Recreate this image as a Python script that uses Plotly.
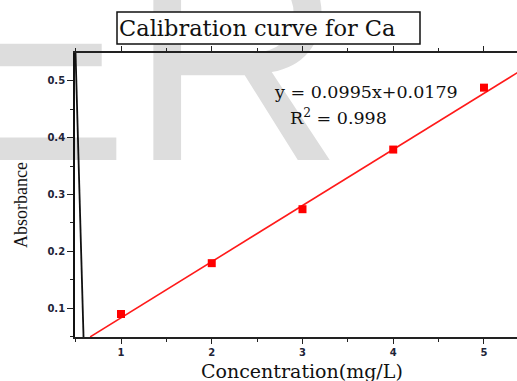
import numpy as np
import plotly.graph_objects as go

# ---- data ----
concentration = [1, 2, 3, 4, 5]
absorbance = [0.0895, 0.179, 0.274, 0.379, 0.488]
fit_slope = 0.0988
fit_intercept = -0.016
fit_x = [0.66, 5.4]
artifact_x = [0.499, 0.587]
artifact_y = [0.549, 0.049]
x_ticks = [1, 2, 3, 4, 5]
y_ticks = [0.1, 0.2, 0.3, 0.4, 0.5]
title_text = "Calibration curve for Ca"
equation_text = "y = 0.0995x+0.0179"
r2_text = "R<sup>2</sup> = 0.998"
x_title = "Concentration(mg/L)"
y_title = "Absorbance"
watermark_letters = ["E", "R"]

W, H = 517, 381
L, R, T, B = 75, 0, 53, 44
PW, PH = W - L - R, H - T - B


def px(xp):
    return (xp - L) / PW


def py(yp):
    return (H - B - yp) / PH


fit_y = [fit_slope * v + fit_intercept for v in fit_x]

fig = go.Figure()
fig.add_trace(go.Scatter(x=artifact_x, y=artifact_y, mode="lines",
                         line=dict(color="#111111", width=1.8), hoverinfo="skip"))
fig.add_trace(go.Scatter(x=fit_x, y=fit_y, mode="lines",
                         line=dict(color="#ff1a1a", width=1.6), hoverinfo="skip"))
fig.add_trace(go.Scatter(x=concentration, y=absorbance, mode="markers",
                         marker=dict(symbol="square", size=8, color="#ff0000"),
                         hoverinfo="skip"))

tickfont = dict(family="DejaVu Sans", size=10, color="#1e2438", weight="bold")

fig.update_xaxes(range=[0.493, 5.364], tickvals=x_ticks, ticks="outside", ticklen=5,
                 tickwidth=1.2, tickcolor="#222", showline=True, linecolor="#222",
                 linewidth=1.5, mirror="ticks", showgrid=False, zeroline=False,
                 automargin=False, tickfont=tickfont,
                 minor=dict(dtick=0.5, tick0=0.5, ticks="outside", ticklen=3,
                            tickcolor="#222", tickwidth=1.2))
fig.update_yaxes(range=[0.049, 0.549], tickvals=y_ticks, ticks="outside", ticklen=6,
                 tickwidth=1.2, tickcolor="#222", showline=True, linecolor="#111",
                 linewidth=1.8, mirror="ticks", showgrid=False, zeroline=False,
                 automargin=False, tickfont=tickfont, tickformat=".1f",
                 minor=dict(dtick=0.05, tick0=0.05, ticks="outside", ticklen=3,
                            tickcolor="#222", tickwidth=1.2))

wm_font = dict(family="Liberation Sans", size=297, color="#dddddd")
shapes = [
    dict(type="rect", xref="paper", yref="paper", layer="below",
         x0=px(-72), x1=px(110), y0=py(195), y1=py(-60),
         line=dict(width=0), fillcolor="rgba(0,0,0,0)",
         label=dict(text=watermark_letters[0], textposition="bottom left", padding=0,
                    font=wm_font)),
    dict(type="rect", xref="paper", yref="paper", layer="below",
         x0=px(126), x1=px(400), y0=py(195), y1=py(-60),
         line=dict(width=0), fillcolor="rgba(0,0,0,0)",
         label=dict(text=watermark_letters[1], textposition="bottom left", padding=0,
                    font=wm_font)),
    dict(type="rect", xref="paper", yref="paper", layer="below",
         x0=px(117), x1=px(420), y0=py(44), y1=py(12),
         line=dict(color="#111", width=1.5), fillcolor="white"),
]

annotations = [
    dict(text=title_text, xref="paper", yref="paper", x=px(257), y=py(28),
         xanchor="center", yanchor="middle", showarrow=False,
         font=dict(family="DejaVu Serif", size=22.5, color="#111")),
    dict(text=equation_text, x=3.70, y=0.4806, xanchor="center", yanchor="middle",
         showarrow=False, font=dict(family="DejaVu Serif", size=17.5, color="#111")),
    dict(text=r2_text, x=3.40, y=0.4366, xanchor="center", yanchor="middle",
         showarrow=False, font=dict(family="DejaVu Serif", size=17.5, color="#111")),
    dict(text=x_title, xref="paper", yref="paper", x=px(302), y=py(371),
         xanchor="center", yanchor="middle",
         showarrow=False, font=dict(family="DejaVu Serif", size=19, color="#111")),
    dict(text=y_title, xref="paper", yref="paper", x=px(21), y=py(205),
         xanchor="center", yanchor="middle", showarrow=False, textangle=-90,
         font=dict(family="Liberation Serif", size=18, color="#111")),
]

fig.update_layout(width=W, height=H, margin=dict(l=L, r=R, t=T, b=B, autoexpand=False),
                  paper_bgcolor="white", plot_bgcolor="rgba(0,0,0,0)",
                  showlegend=False, shapes=shapes, annotations=annotations)

fig.write_html("out.html")
